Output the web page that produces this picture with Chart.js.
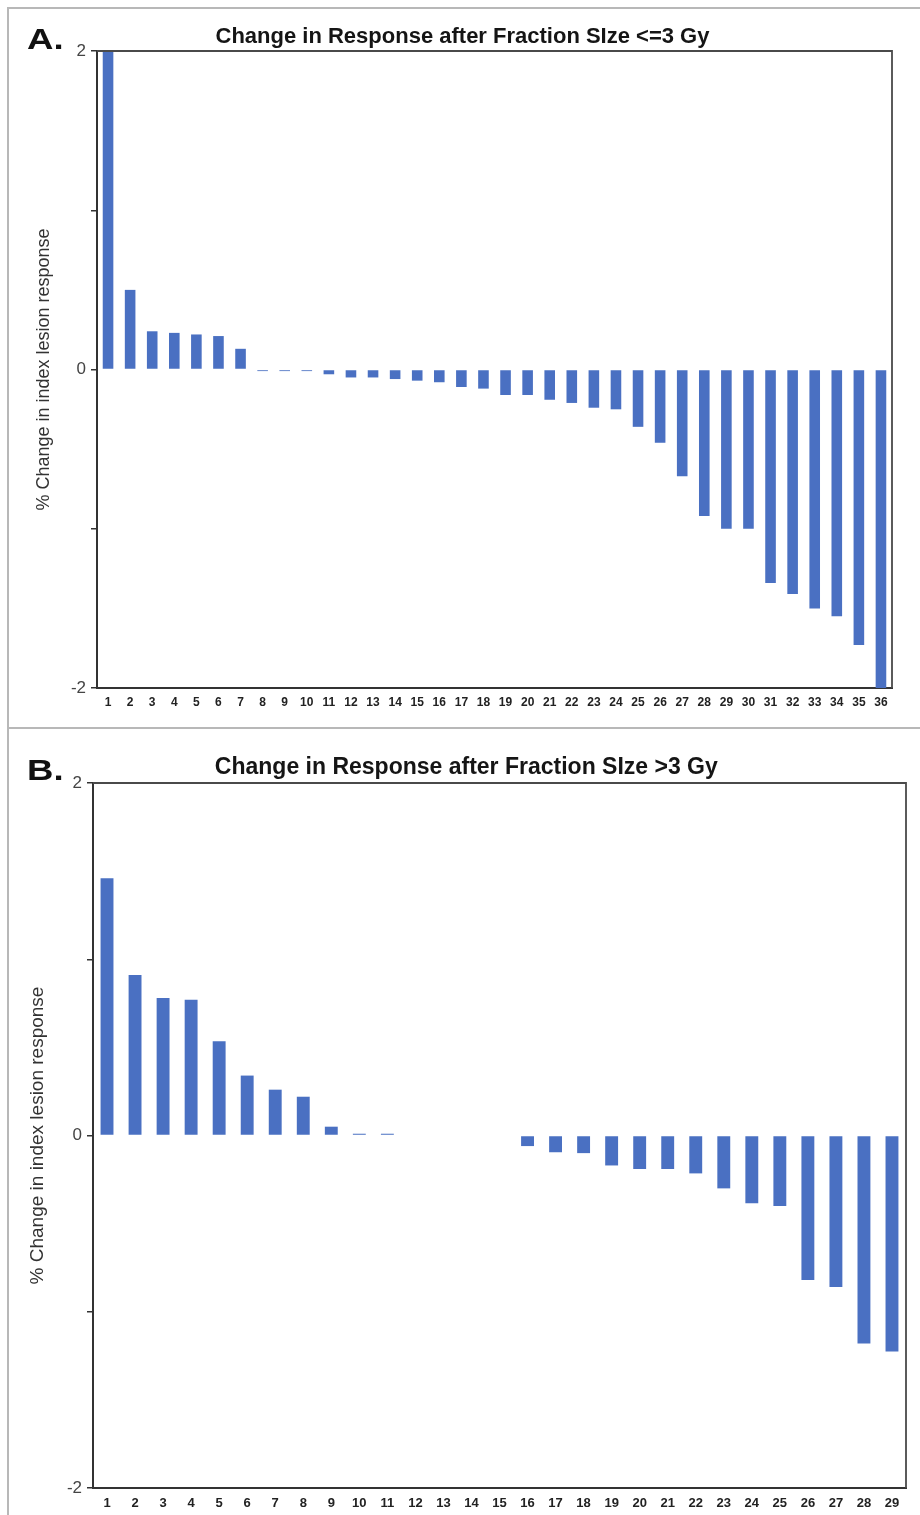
<!DOCTYPE html>
<html><head><meta charset="utf-8">
<script src="https://cdn.jsdelivr.net/npm/chart.js@4.4.0/dist/chart.umd.min.js"></script>
<style>
html,body{margin:0;padding:0;background:#fff;}
#wrap{position:relative;width:920px;height:1515px;overflow:hidden;background:#fff;}
.ln{position:absolute;background:#b8b8b8;}
.panel{position:absolute;left:0;width:920px;}
.lbl{position:absolute;font-family:'Liberation Sans',Arial,sans-serif;font-weight:bold;color:#111;line-height:30px;font-size:30px;transform:scaleX(1.22);transform-origin:0 0;}
</style></head><body>
<div id="wrap">
 <div class="panel" style="top:0;height:728px;"><canvas id="cA"></canvas></div>
 <div class="panel" style="top:728px;height:787px;"><canvas id="cB"></canvas></div>
 <div class="ln" style="left:7px;top:7px;width:2px;height:1508px;"></div>
 <div class="ln" style="left:7px;top:7px;width:913px;height:2px;"></div>
 <div class="ln" style="left:7px;top:727px;width:913px;height:2px;"></div>
 <div class="lbl" style="left:27px;top:24px;">A.</div>
 <div class="lbl" style="left:27px;top:755px;">B.</div>
</div>
<script>
// ---- data ----
const categoriesA = ['1','2','3','4','5','6','7','8','9','10','11','12','13','14','15','16','17','18','19','20','21','22','23','24','25','26','27','28','29','30','31','32','33','34','35','36'];
const valuesA = [2.0, 0.50, 0.24, 0.23, 0.22, 0.21, 0.13, -0.01, -0.01, -0.01, -0.03, -0.05, -0.05, -0.06, -0.07, -0.08, -0.11, -0.12, -0.16, -0.16, -0.19, -0.21, -0.24, -0.25, -0.36, -0.46, -0.67, -0.92, -1.00, -1.00, -1.34, -1.41, -1.50, -1.55, -1.73, -2.0];
const categoriesB = ['1','2','3','4','5','6','7','8','9','10','11','12','13','14','15','16','17','18','19','20','21','22','23','24','25','26','27','28','29'];
const valuesB = [1.46, 0.91, 0.78, 0.77, 0.535, 0.34, 0.26, 0.22, 0.05, 0.01, 0.01, 0, 0, 0, 0, -0.06, -0.095, -0.10, -0.17, -0.19, -0.19, -0.215, -0.30, -0.385, -0.40, -0.82, -0.86, -1.18, -1.225];
const yMin = -2, yMax = 2, yStep = 1;
const yLabelledTicks = [-2, 0, 2];
const titleA = 'Change in Response after Fraction SIze <=3 Gy';
const titleB = 'Change in Response after Fraction SIze >3 Gy';
const yAxisTitle = '% Change in index lesion response';

const FONT = "'Liberation Sans', Arial, sans-serif";
const BAR = '#4a70c2';

const framePlugin = {
  id: 'frame',
  afterDraw(chart) {
    const a = chart.chartArea, ctx = chart.ctx;
    ctx.save();
    ctx.strokeStyle = '#4a4a4a';
    ctx.lineWidth = 1.8;
    ctx.beginPath();
    ctx.moveTo(a.left, a.top);
    ctx.lineTo(a.right, a.top);
    ctx.lineTo(a.right, a.bottom);
    ctx.stroke();
    ctx.restore();
  }
};

function makeChart(id, cats, vals, title, o) {
  return new Chart(document.getElementById(id), {
    type: 'bar',
    data: { labels: cats, datasets: [{ data: vals, backgroundColor: BAR, borderWidth: 0, barPercentage: o.barPct, categoryPercentage: 1 }] },
    options: {
      responsive: true, maintainAspectRatio: false, animation: false,
      layout: { padding: { left: o.padL, right: o.padR, top: 0, bottom: 0 } },
      plugins: {
        legend: { display: false }, tooltip: { enabled: false },
        title: { display: true, text: title, color: '#151515', font: { family: FONT, size: o.titleSize, weight: 'bold' }, padding: { top: o.titleTop, bottom: o.titleBottom } }
      },
      scales: {
        x: {
          type: 'category', offset: true,
          grid: { display: true, drawOnChartArea: false, drawTicks: false },
          border: { display: true, color: '#333', width: 2 },
          ticks: { color: '#222', font: { family: FONT, size: o.xFont, weight: 'bold' }, padding: o.xPad, maxRotation: 0, autoSkip: false },
          afterFit: s => { s.height = o.xH; }
        },
        y: {
          min: yMin, max: yMax,
          grid: { drawOnChartArea: false, drawTicks: true, tickLength: 6, color: '#333', lineWidth: 1.5 },
          border: { display: true, color: '#333', width: 2 },
          ticks: { stepSize: yStep, color: '#444', font: { family: FONT, size: 17 }, padding: 5,
                   callback: v => yLabelledTicks.includes(v) ? String(v) : '' },
          title: { display: true, text: yAxisTitle, color: '#333', font: { family: FONT, size: o.yTitleSize }, padding: 0 },
          afterFit: s => { s.width = o.yW; }
        }
      }
    },
    plugins: [framePlugin]
  });
}

makeChart('cA', categoriesA, valuesA, titleA, {
  barPct: 0.48, padL: 33, padR: 28, titleSize: 22, titleTop: 23.8, titleBottom: 0.8,
  xFont: 12, xPad: 7, xH: 40, yW: 64, yTitleSize: 18
});
makeChart('cB', categoriesB, valuesB, titleB, {
  barPct: 0.46, padL: 26.6, padR: 14, titleSize: 23, titleTop: 26.2, titleBottom: 1.2,
  xFont: 13, xPad: 8, xH: 27, yW: 66.4, yTitleSize: 19
});
</script>
</body></html>
